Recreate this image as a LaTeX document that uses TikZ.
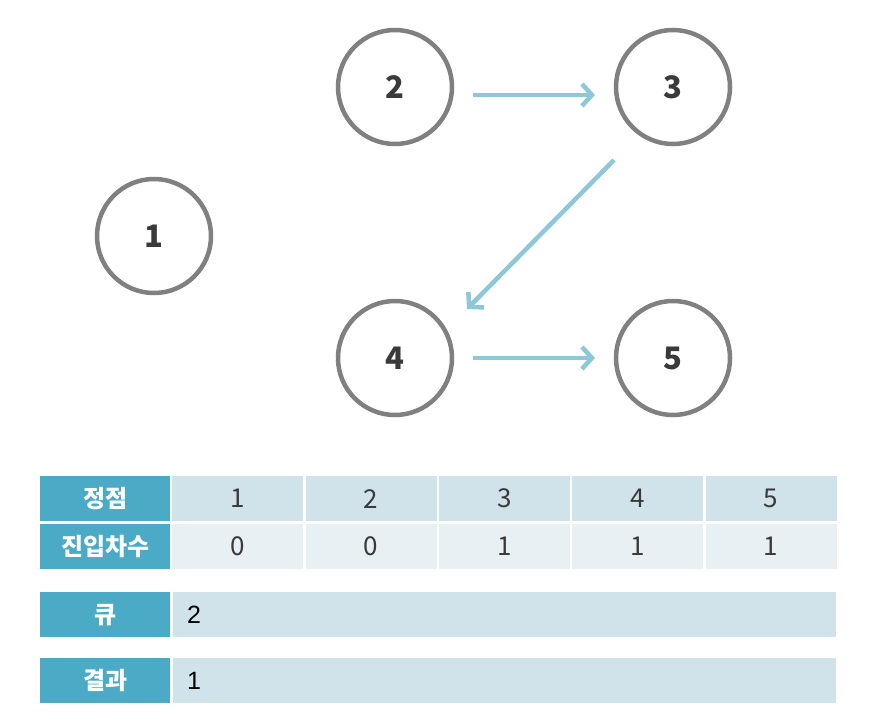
\documentclass[tikz,border=0pt]{standalone}
\usepackage{fontspec}
\setmainfont{Noto Sans CJK KR}
\newfontfamily\kr{Noto Sans CJK KR}
\newfontfamily\arial{Liberation Sans}
\usetikzlibrary{arrows.meta}
\definecolor{ringgray}{HTML}{808080}
\definecolor{arrowblue}{HTML}{8DC8D8}
\definecolor{headteal}{HTML}{4BAAC6}
\definecolor{cellone}{HTML}{D0E3EB}
\definecolor{celltwo}{HTML}{E9F0F4}
\definecolor{numtext}{HTML}{3A3A3A}
\tikzset{
  vert/.style={circle,draw=ringgray,line width=4.5pt,minimum size=114pt,inner sep=0pt,
    font=\kr\bfseries\fontsize{31}{31}\selectfont,text=numtext},
  edge/.style={draw=arrowblue,line width=4.5pt,-{Straight Barb[length=10pt,width=22pt,line width=4.5pt]}},
  headcell/.style={fill=headteal,draw=none,minimum width=130pt,minimum height=45pt,inner sep=0pt,
    font=\kr\bfseries\fontsize{24}{24}\selectfont,text=white,anchor=north west},
  cellA/.style={fill=cellone,draw=none,minimum width=131pt,minimum height=45pt,inner sep=0pt,
    font=\kr\fontsize{26}{26}\selectfont,text=numtext,anchor=north west},
  cellB/.style={cellA,fill=celltwo},
  longcell/.style={fill=cellone,draw=none,minimum width=663pt,minimum height=45pt,inner sep=0pt,
    anchor=north west,text width=635pt,align=left,font=\arial\fontsize{25}{25}\selectfont,text=black}
}
\begin{document}
\begin{tikzpicture}[x=1pt,y=-1pt]
\useasboundingbox (0,0) rectangle (880,725);
\node[vert] (n1) at (154,236) {1};
\node[vert] (n2) at (395,87) {2};
\node[vert] (n3) at (673,87) {3};
\node[vert] (n4) at (395,358) {4};
\node[vert] (n5) at (673,358) {5};
\coordinate (a2s) at (473,95);
\coordinate (a2e) at (595,95);
\coordinate (a3s) at (614,160);
\coordinate (a3e) at (467,309);
\coordinate (a4s) at (473,358);
\coordinate (a4e) at (595,358);
\draw[edge] (a2s) -- (a2e);
\draw[edge] (a3s) -- (a3e);
\draw[edge] (a4s) -- (a4e);
% table
\node[headcell] (h1) at (40,476) {정점};
\node[headcell] (h2) at (40,524) {진입차수};
\node[cellA] (v1) at (172,476) {1};
\node[cellA] (v2) at (305.5,476) {2};
\node[cellA] (v3) at (439,476) {3};
\node[cellA] (v4) at (572,476) {4};
\node[cellA] (v5) at (705.5,476) {5};
\node[cellB] (d1) at (172,524) {0};
\node[cellB] (d2) at (305.5,524) {0};
\node[cellB] (d3) at (439,524) {1};
\node[cellB] (d4) at (572,524) {1};
\node[cellB] (d5) at (705.5,524) {1};
\node[headcell] (q) at (40,592) {큐};
\node[longcell] (qv) at (173,592) {2};
\node[headcell] (r) at (40,658) {결과};
\node[longcell] (rv) at (173,658) {1};
\end{tikzpicture}
\end{document}
